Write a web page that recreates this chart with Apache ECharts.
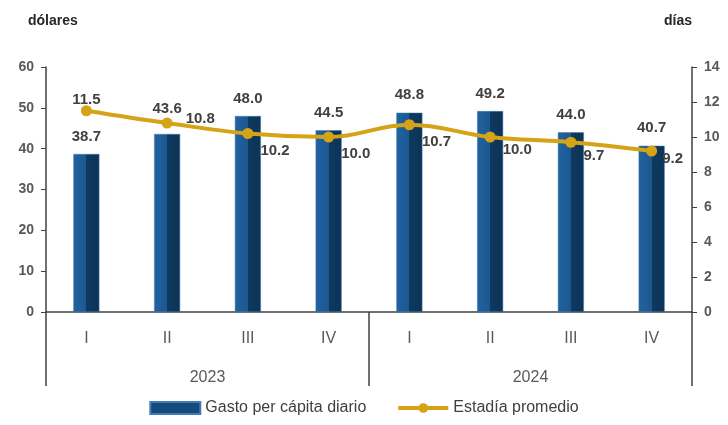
<!DOCTYPE html>
<html>
<head>
<meta charset="utf-8">
<script src="https://cdn.jsdelivr.net/npm/echarts@6/dist/echarts.min.js"></script>
<style>
  html, body { margin: 0; padding: 0; background: #fff; }
  #chart-container { width: 728px; height: 425px; }
</style>
</head>
<body>
<div id="chart-container"></div>
<script>
var quarters = ['I', 'II', 'III', 'IV', 'I', 'II', 'III', 'IV'];
var years = ['2023', '2024'];
var gasto = [38.7, 43.6, 48.0, 44.5, 48.8, 49.2, 44.0, 40.7];
var estadia = [11.5, 10.8, 10.2, 10.0, 10.7, 10.0, 9.7, 9.2];

var dom = document.getElementById('chart-container');
var myChart = echarts.init(dom, null, { renderer: 'canvas' });

var barColor = new echarts.graphic.LinearGradient(0, 0, 1, 0, [
  { offset: 0, color: '#2062a0' },
  { offset: 0.5, color: '#1c5890' },
  { offset: 0.5, color: '#0f3960' },
  { offset: 1, color: '#0d3357' }
]);

// label placement for the line points
var lineLabelPos = [
  { position: 'top', offset: [0, 7] },
  { position: 'right', offset: [8, -4] },
  { position: 'right', offset: [2, 17] },
  { position: 'right', offset: [2, 17] },
  { position: 'right', offset: [2, 17] },
  { position: 'right', offset: [2, 13] },
  { position: 'right', offset: [2, 14] },
  { position: 'right', offset: [0, 8] }
];

var lineData = estadia.map(function (v, i) {
  return { value: v, label: lineLabelPos[i] };
});

var barData = gasto.map(function (v, i) {
  // second bar label sits a bit higher in the original
  return i === 1 ? { value: v, label: { distance: 18 } } : v;
});

var axisFont = '"Liberation Sans Narrow", "Liberation Sans", sans-serif';

var option = {
  animation: false,
  grid: { left: 46, right: 36, top: 67, bottom: 113 },
  graphic: [
    { type: 'text', left: 28, top: 14, style: { text: 'dólares', font: 'bold 14px "Liberation Sans", Arial', fill: '#262626' } },
    { type: 'text', left: 664, top: 14, style: { text: 'días', font: 'bold 14px "Liberation Sans", Arial', fill: '#262626' } }
  ],
  legend: {
    bottom: 4,
    left: 'center',
    itemGap: 30,
    itemWidth: 50,
    itemHeight: 12,
    textStyle: { fontFamily: axisFont, fontSize: 16, color: '#404040' },
    data: [
      { name: 'Gasto per cápita diario', icon: 'rect', itemStyle: { color: '#154a7c' } },
      { name: 'Estadía promedio', lineStyle: { width: 4 } }
    ]
  },
  xAxis: [
    {
      type: 'category',
      data: quarters,
      position: 'bottom',
      axisLine: { lineStyle: { color: '#404040', width: 1.5 } },
      axisTick: { show: false },
      axisLabel: { margin: 19, fontFamily: axisFont, fontSize: 16, color: '#595959' }
    },
    {
      type: 'category',
      data: years,
      position: 'bottom',
      axisLine: { show: false },
      axisTick: { show: true, length: 74, lineStyle: { color: '#404040', width: 1.5 } },
      axisLabel: { margin: 58, fontFamily: axisFont, fontSize: 16, color: '#595959' }
    }
  ],
  yAxis: [
    {
      type: 'value',
      min: 0,
      max: 60,
      interval: 10,
      splitLine: { show: false },
      axisLine: { show: true, lineStyle: { color: '#404040', width: 1.5 } },
      axisTick: { show: true, length: 5, lineStyle: { color: '#404040' } },
      axisLabel: { margin: 12, fontFamily: '"Liberation Sans", Arial', fontWeight: 'bold', fontSize: 14, color: '#595959' }
    },
    {
      type: 'value',
      min: 0,
      max: 14,
      interval: 2,
      splitLine: { show: false },
      axisLine: { show: true, lineStyle: { color: '#404040', width: 1.5 } },
      axisTick: { show: true, length: 5, lineStyle: { color: '#404040' } },
      axisLabel: { margin: 12, fontFamily: '"Liberation Sans", Arial', fontWeight: 'bold', fontSize: 14, color: '#595959' }
    }
  ],
  series: [
    {
      name: 'Gasto per cápita diario',
      type: 'bar',
      barWidth: 26,
      data: barData,
      itemStyle: { color: barColor, borderColor: '#3f7cb5', borderWidth: 0.5 },
      label: {
        show: true,
        position: 'top',
        distance: 10,
        formatter: function (p) { return p.value.toFixed(1); },
        fontFamily: '"Liberation Sans", Arial',
        fontWeight: 'bold',
        fontSize: 15,
        color: '#404040'
      }
    },
    {
      name: 'Estadía promedio',
      type: 'line',
      yAxisIndex: 1,
      smooth: 0.4,
      symbol: 'circle',
      symbolSize: 11,
      data: lineData,
      lineStyle: { color: '#d4a316', width: 4 },
      itemStyle: { color: '#d4a316' },
      label: {
        show: true,
        formatter: function (p) { return p.value.toFixed(1); },
        fontFamily: '"Liberation Sans", Arial',
        fontWeight: 'bold',
        fontSize: 15,
        color: '#404040'
      }
    }
  ]
};

myChart.setOption(option);
window.addEventListener('resize', myChart.resize);
</script>
</body>
</html>
